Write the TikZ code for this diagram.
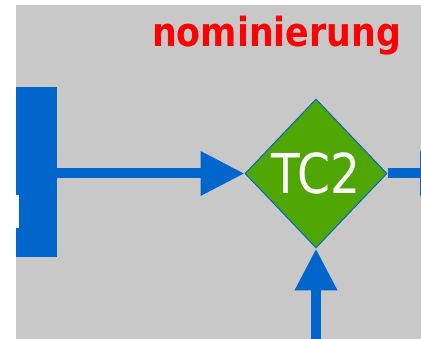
\documentclass[tikz,border=0pt]{standalone}
\usepackage{fontspec}
\usetikzlibrary{shapes.geometric,arrows.meta}
\newfontfamily\tcfont[FakeStretch=0.86]{DejaVu Sans}
\newfontfamily\titlefont[FakeStretch=0.87]{DejaVu Sans Bold}
\definecolor{bgray}{RGB}{200,200,200}
\definecolor{flowblue}{RGB}{0,102,204}
\definecolor{tcgreen}{RGB}{79,166,0}
\definecolor{titlered}{RGB}{255,0,0}
\tikzset{
  flow/.style={draw=flowblue, line width=10pt},
  tipA/.style={-{Triangle[length=44pt,width=42pt]}},
  tipB/.style={-{Triangle[length=42pt,width=40pt]}},
  decision/.style={diamond, fill=tcgreen, draw=flowblue, line width=1pt,
    minimum width=142pt, minimum height=149pt, inner sep=0pt,
    text=white, font=\tcfont\fontsize{55}{60}\selectfont},
  barbox/.style={fill=flowblue, draw=none, minimum width=41pt, minimum height=170pt, inner sep=0pt},
}
\begin{document}
\begin{tikzpicture}[x=1pt,y=-1pt]
\useasboundingbox (0,0) rectangle (421,339);
\clip (0,0) rectangle (421,339);
\fill[white] (0,0) rectangle (421,339);
\fill[bgray] (16,5) rectangle (421,339);
\node[barbox] (bar) at (36.5,172) {};
\fill[white] (16,195) rectangle (19,228);
\node[anchor=base west, text=titlered, font=\titlefont\fontsize{40}{44}\selectfont, inner sep=0pt] (title) at (152,47) {nominierung};
\node[decision] (tc2) at (316,173.5) {TC2};
\coordinate (rout) at (464,173.5);
\coordinate (bin) at (316,350);
\draw[flow, tipA] (bar.east |- tc2.west) -- (tc2.west);
\draw[flow, tipA] (tc2.east) -- (rout);
\draw[flow, tipB] (bin) -- (tc2.south);
\end{tikzpicture}
\end{document}
